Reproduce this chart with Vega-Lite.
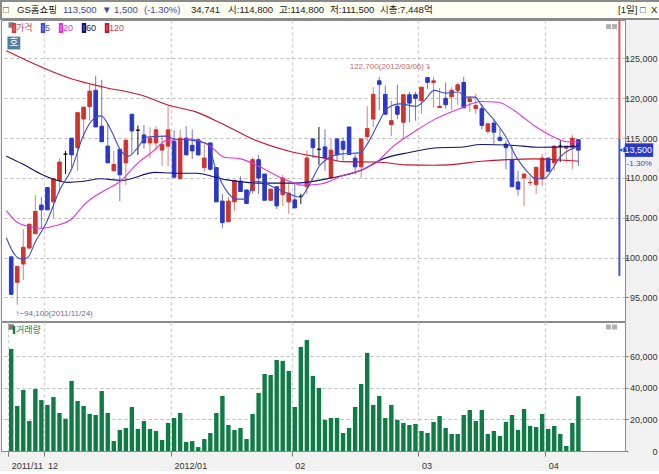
{
"$schema":"https://vega.github.io/schema/vega-lite/v6.json",
"background":"#f1f1f1","padding":0,"spacing":1,"bounds":"flush",
"resolve":{"scale":{"color":"independent"},"legend":{"color":"independent"}},
"config":{"view":{"stroke":"#8a8a8a"},"font":"Liberation Sans"},
"datasets":{
"candles":[
{"i":0,"open":100100,"high":100100,"low":95300,"close":95400,"volume":64700},
{"i":1,"open":96900,"high":98900,"low":94100,"close":98900,"volume":28500},
{"i":2,"open":99200,"high":103600,"low":97200,"close":101300,"volume":38700},
{"i":3,"open":101200,"high":104200,"low":101200,"close":104200,"volume":19000},
{"i":4,"open":103000,"high":107850,"low":103000,"close":105800,"volume":39300},
{"i":5,"open":106600,"high":107600,"low":103700,"close":106000,"volume":32300},
{"i":6,"open":108800,"high":108800,"low":106000,"close":106000,"volume":29200},
{"i":7,"open":107000,"high":109900,"low":105000,"close":109900,"volume":34200},
{"i":8,"open":109650,"high":112500,"low":108200,"close":112000,"volume":24100},
{"i":9,"open":113000,"high":113400,"low":110500,"close":113000,"volume":20500},
{"i":10,"open":115000,"high":115000,"low":111300,"close":112900,"volume":44400},
{"i":11,"open":113800,"high":118200,"low":110900,"close":118200,"volume":31700},
{"i":12,"open":117400,"high":118900,"low":115000,"close":118900,"volume":28500},
{"i":13,"open":118950,"high":121800,"low":117200,"close":120900,"volume":23500},
{"i":14,"open":121000,"high":122800,"low":116400,"close":116400,"volume":22800},
{"i":15,"open":116500,"high":122300,"low":114500,"close":114550,"volume":38000},
{"i":16,"open":114000,"high":116800,"low":111900,"close":111900,"volume":24100},
{"i":17,"open":110900,"high":113400,"low":110900,"close":111700,"volume":6300},
{"i":18,"open":113600,"high":113600,"low":107100,"close":110400,"volume":13300},
{"i":19,"open":111900,"high":114750,"low":109100,"close":114750,"volume":14600},
{"i":20,"open":118000,"high":118000,"low":113000,"close":115900,"volume":27900},
{"i":21,"open":116000,"high":116600,"low":112900,"close":116000,"volume":14000},
{"i":22,"open":115400,"high":116650,"low":113700,"close":114400,"volume":19000},
{"i":23,"open":114400,"high":116350,"low":112500,"close":115000,"volume":14000},
{"i":24,"open":114400,"high":116500,"low":113450,"close":116050,"volume":12700},
{"i":25,"open":113500,"high":115300,"low":111500,"close":114200,"volume":7000},
{"i":26,"open":114000,"high":119100,"low":111500,"close":116050,"volume":17800},
{"i":27,"open":114600,"high":116000,"low":110100,"close":110100,"volume":20900},
{"i":28,"open":109900,"high":116000,"low":109900,"close":115000,"volume":24100},
{"i":29,"open":115000,"high":116500,"low":112900,"close":112900,"volume":5700},
{"i":30,"open":114100,"high":116100,"low":112400,"close":113400,"volume":6300},
{"i":31,"open":114800,"high":114800,"low":112800,"close":112900,"volume":2500},
{"i":32,"open":111300,"high":114300,"low":110800,"close":112500,"volume":7600},
{"i":33,"open":114400,"high":114400,"low":110900,"close":111100,"volume":11400},
{"i":34,"open":111300,"high":111300,"low":107000,"close":107000,"volume":24100},
{"i":35,"open":107100,"high":108000,"low":103700,"close":104400,"volume":34900},
{"i":36,"open":104500,"high":107600,"low":104500,"close":107100,"volume":16500},
{"i":37,"open":107000,"high":109700,"low":105900,"close":109700,"volume":13300},
{"i":38,"open":109600,"high":110200,"low":108300,"close":108300,"volume":14600},
{"i":39,"open":108500,"high":108500,"low":106800,"close":106800,"volume":7600},
{"i":40,"open":108400,"high":112600,"low":108000,"close":112300,"volume":23500},
{"i":41,"open":112300,"high":112900,"low":108000,"close":110000,"volume":36800},
{"i":42,"open":110500,"high":110500,"low":107200,"close":107200,"volume":48800},
{"i":43,"open":107200,"high":108600,"low":107200,"close":108600,"volume":48200},
{"i":44,"open":108900,"high":108900,"low":106100,"close":106500,"volume":57700},
{"i":45,"open":107900,"high":110400,"low":106500,"close":110000,"volume":57100},
{"i":46,"open":107000,"high":109500,"low":105500,"close":108100,"volume":50700},
{"i":47,"open":107250,"high":109300,"low":106200,"close":106250,"volume":27900},
{"i":48,"open":107700,"high":108000,"low":106750,"close":107700,"volume":66000},
{"i":49,"open":108900,"high":113450,"low":108000,"close":112500,"volume":70400},
{"i":50,"open":114900,"high":114900,"low":112500,"close":113800,"volume":47600},
{"i":51,"open":113600,"high":116400,"low":111650,"close":113600,"volume":40000},
{"i":52,"open":113900,"high":116100,"low":110900,"close":112500,"volume":19700},
{"i":53,"open":110000,"high":114900,"low":110000,"close":113500,"volume":20900},
{"i":54,"open":114900,"high":115000,"low":112100,"close":112900,"volume":20900},
{"i":55,"open":114600,"high":115100,"low":112200,"close":113600,"volume":11400},
{"i":56,"open":116400,"high":116400,"low":112950,"close":112950,"volume":14600},
{"i":57,"open":112500,"high":113000,"low":110500,"close":111400,"volume":27900},
{"i":58,"open":111400,"high":114900,"low":110000,"close":114900,"volume":42500},
{"i":59,"open":115200,"high":119000,"low":114600,"close":116200,"volume":62200},
{"i":60,"open":117400,"high":121400,"low":116400,"close":120500,"volume":29200},
{"i":61,"open":122200,"high":122700,"low":118500,"close":121750,"volume":34900},
{"i":62,"open":120500,"high":121600,"low":118000,"close":118000,"volume":20900},
{"i":63,"open":116700,"high":119700,"low":115250,"close":117200,"volume":29200},
{"i":64,"open":119000,"high":121700,"low":117400,"close":118000,"volume":19700},
{"i":65,"open":117000,"high":120500,"low":114900,"close":120450,"volume":17800},
{"i":66,"open":120450,"high":120800,"low":117000,"close":119400,"volume":16500},
{"i":67,"open":120450,"high":120800,"low":117200,"close":120000,"volume":17100},
{"i":68,"open":119700,"high":121400,"low":118050,"close":121400,"volume":12700},
{"i":69,"open":122600,"high":122600,"low":121200,"close":122000,"volume":11400},
{"i":70,"open":122000,"high":122700,"low":118850,"close":122200,"volume":18400},
{"i":71,"open":118850,"high":121300,"low":118850,"close":119000,"volume":22200},
{"i":72,"open":120000,"high":122000,"low":118700,"close":119200,"volume":14600},
{"i":73,"open":120200,"high":121400,"low":118500,"close":121000,"volume":10800},
{"i":74,"open":121000,"high":122000,"low":119200,"close":121700,"volume":10800},
{"i":75,"open":122000,"high":122700,"low":118800,"close":118800,"volume":22800},
{"i":76,"open":119600,"high":120300,"low":118300,"close":119950,"volume":26000},
{"i":77,"open":118700,"high":120600,"low":118050,"close":119100,"volume":19000},
{"i":78,"open":118700,"high":119300,"low":116100,"close":116600,"volume":26000},
{"i":79,"open":115850,"high":116900,"low":115500,"close":116800,"volume":10800},
{"i":80,"open":116900,"high":117400,"low":114300,"close":115750,"volume":12700},
{"i":81,"open":115100,"high":116200,"low":114700,"close":114700,"volume":9500},
{"i":82,"open":114250,"high":114700,"low":111100,"close":113800,"volume":18400},
{"i":83,"open":112300,"high":114100,"low":108900,"close":108900,"volume":22800},
{"i":84,"open":109500,"high":110900,"low":107800,"close":108600,"volume":13300},
{"i":85,"open":110000,"high":110500,"low":106500,"close":110500,"volume":26600},
{"i":86,"open":109400,"high":110200,"low":109000,"close":109450,"volume":15900},
{"i":87,"open":109200,"high":111350,"low":108000,"close":111350,"volume":15200},
{"i":88,"open":109900,"high":113000,"low":109000,"close":112500,"volume":23500},
{"i":89,"open":112500,"high":112500,"low":110850,"close":110850,"volume":14000},
{"i":90,"open":111900,"high":114150,"low":110900,"close":114000,"volume":15900},
{"i":91,"open":114000,"high":114700,"low":112000,"close":114000,"volume":10800},
{"i":92,"open":113750,"high":114000,"low":111900,"close":114000,"volume":3200},
{"i":93,"open":113800,"high":115400,"low":111100,"close":115000,"volume":17800},
{"i":94,"open":114800,"high":114800,"low":111500,"close":113500,"volume":34741}
],
"ma":[
{"s":"120","i":-0.8,"v":125970},{"s":"120","i":10.2,"v":122400},{"s":"120","i":15.4,"v":121400},{"s":"120","i":22,"v":120300},{"s":"120","i":26,"v":119150},{"s":"120","i":30.6,"v":118300},{"s":"120","i":35,"v":116800},{"s":"120","i":40,"v":114900},{"s":"120","i":46.4,"v":113300},{"s":"120","i":52.6,"v":112400},{"s":"120","i":55,"v":112050},{"s":"120","i":60.6,"v":112000},{"s":"120","i":65.5,"v":111650},{"s":"120","i":70,"v":111600},{"s":"120","i":72.5,"v":111650},{"s":"120","i":78,"v":112100},{"s":"120","i":82.3,"v":112300},{"s":"120","i":86.7,"v":112400},{"s":"120","i":91,"v":112250},{"s":"120","i":94,"v":112100},
{"s":"60","i":-0.8,"v":112750},{"s":"60","i":1.9,"v":111750},{"s":"60","i":5.2,"v":110400},{"s":"60","i":9.4,"v":109450},{"s":"60","i":11.7,"v":109550},{"s":"60","i":14.9,"v":109900},{"s":"60","i":18.2,"v":109700},{"s":"60","i":23.9,"v":110700},{"s":"60","i":26.9,"v":110600},{"s":"60","i":30.6,"v":110600},{"s":"60","i":35.5,"v":109800},{"s":"60","i":41.5,"v":109350},{"s":"60","i":46.9,"v":109350},{"s":"60","i":53,"v":110000},{"s":"60","i":57.8,"v":110900},{"s":"60","i":61.6,"v":112400},{"s":"60","i":66,"v":113200},{"s":"60","i":70.9,"v":113800},{"s":"60","i":74.2,"v":113850},{"s":"60","i":78,"v":114200},{"s":"60","i":82.3,"v":114150},{"s":"60","i":87.7,"v":113850},{"s":"60","i":94,"v":114000},
{"s":"20","i":-0.8,"v":105900},{"s":"20","i":1.3,"v":104300},{"s":"20","i":5.2,"v":103700},{"s":"20","i":7.3,"v":104000},{"s":"20","i":10,"v":104850},{"s":"20","i":12.2,"v":106750},{"s":"20","i":15.4,"v":108400},{"s":"20","i":18.2,"v":109650},{"s":"20","i":20.8,"v":111750},{"s":"20","i":23.6,"v":113400},{"s":"20","i":25.7,"v":114700},{"s":"20","i":29.6,"v":114900},{"s":"20","i":32.9,"v":114050},{"s":"20","i":35.3,"v":112600},{"s":"20","i":38,"v":112400},{"s":"20","i":41.2,"v":111400},{"s":"20","i":44.5,"v":110100},{"s":"20","i":46.8,"v":109400},{"s":"20","i":48,"v":109100},{"s":"20","i":51.3,"v":109250},{"s":"20","i":55,"v":110300},{"s":"20","i":58.3,"v":111100},{"s":"20","i":60.6,"v":112000},{"s":"20","i":63.2,"v":113900},{"s":"20","i":67.1,"v":115950},{"s":"20","i":69.8,"v":117200},{"s":"20","i":74.2,"v":118650},{"s":"20","i":77.9,"v":119600},{"s":"20","i":80.7,"v":119500},{"s":"20","i":83.4,"v":118450},{"s":"20","i":86.7,"v":116550},{"s":"20","i":90,"v":115100},{"s":"20","i":92.1,"v":114550},{"s":"20","i":94,"v":114500},
{"s":"5","i":-0.8,"v":102500},{"s":"5","i":0.3,"v":100700},{"s":"5","i":1.6,"v":99850},{"s":"5","i":2.7,"v":100000},{"s":"5","i":4,"v":102000},{"s":"5","i":5.7,"v":104200},{"s":"5","i":8.1,"v":108600},{"s":"5","i":10,"v":111100},{"s":"5","i":11.9,"v":115250},{"s":"5","i":13.3,"v":117150},{"s":"5","i":14.9,"v":117800},{"s":"5","i":16.6,"v":115900},{"s":"5","i":18.2,"v":113400},{"s":"5","i":19.5,"v":112750},{"s":"5","i":20.8,"v":113650},{"s":"5","i":22.5,"v":115150},{"s":"5","i":25.7,"v":115250},{"s":"5","i":26.9,"v":114900},{"s":"5","i":29.8,"v":114750},{"s":"5","i":32.6,"v":114250},{"s":"5","i":33.9,"v":111100},{"s":"5","i":35.5,"v":108600},{"s":"5","i":37.2,"v":107350},{"s":"5","i":39.1,"v":107350},{"s":"5","i":40.2,"v":109600},{"s":"5","i":41.5,"v":109500},{"s":"5","i":43.5,"v":108850},{"s":"5","i":46.1,"v":108000},{"s":"5","i":48,"v":107600},{"s":"5","i":49,"v":108600},{"s":"5","i":51.3,"v":111700},{"s":"5","i":54.5,"v":113000},{"s":"5","i":57.8,"v":113150},{"s":"5","i":59.2,"v":114500},{"s":"5","i":60.8,"v":116800},{"s":"5","i":62.2,"v":118650},{"s":"5","i":64.4,"v":119300},{"s":"5","i":67.1,"v":119000},{"s":"5","i":68.4,"v":119650},{"s":"5","i":70.1,"v":121000},{"s":"5","i":72,"v":120650},{"s":"5","i":74.2,"v":120800},{"s":"5","i":75.3,"v":120150},{"s":"5","i":76.9,"v":120150},{"s":"5","i":78,"v":119050},{"s":"5","i":79.9,"v":117400},{"s":"5","i":82,"v":115150},{"s":"5","i":83.9,"v":112400},{"s":"5","i":85.6,"v":110750},{"s":"5","i":86.9,"v":109900},{"s":"5","i":88.3,"v":109900},{"s":"5","i":90,"v":111500},{"s":"5","i":91,"v":112650},{"s":"5","i":94,"v":113900}
]
},
"vconcat":[
{"width":659,"height":18,"view":{"fill":"#fffef2","stroke":"#8a8a8a","strokeWidth":2},
 "data":{"values":[
 {"col":2,"t":"□","c":"k"},{"col":16,"t":"GS홈쇼핑","c":"k"},{"col":62,"t":"113,500","c":"b"},{"col":101,"t":"▼","c":"b"},{"col":113,"t":"1,500","c":"b"},{"col":143,"t":"(-1.30%)","c":"b"},{"col":190,"t":"34,741","c":"k"},{"col":227,"t":"시:114,800","c":"k"},{"col":278,"t":"고:114,800","c":"k"},{"col":329,"t":"저:111,500","c":"k"},{"col":379,"t":"시총:7,448억","c":"k"},{"col":617,"t":"[1일]","c":"k"},{"col":639,"t":"□","c":"k"},{"col":650,"t":"X","c":"k"}]},
 "mark":{"type":"text","align":"left","baseline":"middle","fontSize":9.5,"font":"Liberation Sans, Noto Sans CJK KR"},
 "encoding":{"x":{"field":"col","type":"quantitative","scale":{"domain":[0,659],"nice":false},"axis":null},
  "y":{"datum":0.5,"type":"quantitative","scale":{"domain":[0,1]},"axis":null},
  "text":{"field":"t"},
  "color":{"field":"c","type":"nominal","legend":null,"scale":{"domain":["k","b"],"range":["#222222","#3a48ae"]}}}
},
{"width":624,"height":301,"view":{"fill":"white","stroke":"#8a8a8a"},
 "encoding":{"x":{"field":"i","type":"quantitative","scale":{"domain":[-0.864,100.9],"nice":false,"zero":false},
   "axis":{"values":[5.5,26.5,46.5,67.5,88.5],"grid":true,"gridColor":"#cfcfcf","gridDash":[3,3],"gridWidth":1.4,"labels":false,"ticks":false,"domain":false,"title":null}}},
 "layer":[
  {"data":{"name":"candles"},"mark":{"type":"rule","strokeWidth":1},
   "encoding":{"y":{"field":"low","type":"quantitative","scale":{"domain":[92050,129830],"nice":false,"zero":false},
     "axis":{"orient":"right","values":[95000,100000,105000,110000,115000,120000,125000],"format":",d","title":null,"grid":true,"gridColor":"#b9b9b9","gridDash":[3,3],"domain":false,"tickColor":"#777777","tickSize":3,"labelAlign":"right","labelPadding":29,"labelColor":"#333333","labelFontSize":9,"labelFont":"Liberation Sans"}},
    "y2":{"field":"high"},
    "color":{"condition":[{"test":"datum.open==datum.close","value":"#111111"},{"test":"datum.close>datum.open","value":"#d9807c"}],"value":"#6d75d8"}}},
  {"data":{"name":"candles"},"mark":{"type":"bar","orient":"vertical","width":3.6,"strokeWidth":1},
   "encoding":{"y":{"field":"open","type":"quantitative"},"y2":{"field":"close"},
    "color":{"condition":[{"test":"datum.open==datum.close","value":"#111111"},{"test":"datum.close>datum.open","value":"#cc3530"}],"value":"#2b38c6"},
    "stroke":{"condition":[{"test":"datum.open==datum.close","value":"#111111"},{"test":"datum.close>datum.open","value":"#cc3530"}],"value":"#2b38c6"}}},
  {"data":{"name":"ma"},"mark":{"type":"line","interpolate":"monotone","strokeWidth":1.1},
   "encoding":{"y":{"field":"v","type":"quantitative"},
    "order":{"field":"i","type":"quantitative"},
    "color":{"field":"s","type":"nominal","scale":{"domain":["가격","5","20","60","120"],"range":["#d0404a","#3f4cc8","#e233d6","#12126e","#c8142c"]},
     "legend":{"orient":"none","legendX":8,"legendY":3,"direction":"horizontal","title":null,"columns":5,"columnPadding":4,"symbolType":"M-0.3,-1H0.3V1H-0.3Z","symbolSize":64,"symbolStrokeWidth":2,"labelFontSize":9,"labelFont":"Liberation Sans, Noto Sans CJK KR","labelOffset":-3,"padding":0,
      "encode":{"labels":{"update":{"fill":{"signal":"datum.label=='5'?'#3f4cc8':datum.label=='20'?'#e233d6':datum.label=='60'?'#12126e':'#c84a50'"}}}}}}}},
  {"data":{"values":[{"i":100.8,"a":129830,"b":114900}]},"mark":{"type":"rule","strokeWidth":2,"color":"#e0555a"},"encoding":{"y":{"field":"a","type":"quantitative"},"y2":{"field":"b"}}},
  {"data":{"values":[{"i":100.8,"a":114900,"b":97700}]},"mark":{"type":"rule","strokeWidth":2,"color":"#4c52dc"},"encoding":{"y":{"field":"a","type":"quantitative"},"y2":{"field":"b"}}},
  {"data":{"values":[{"i":0,"v":129200}]},"mark":{"type":"square","size":30,"color":"#808080","opacity":1},"encoding":{"y":{"field":"v","type":"quantitative"}}},
  {"data":{"values":[{"i":99,"v":129000},{"i":100,"v":129000}]},"mark":{"type":"square","size":25,"color":"#b0b0b0","opacity":1},"encoding":{"y":{"field":"v","type":"quantitative"}}},
  {"data":{"values":[{"i":0.44,"v":126940}]},"mark":{"type":"square","size":165,"color":"#4d7ea8","opacity":1},"encoding":{"y":{"field":"v","type":"quantitative"}}},
  {"data":{"values":[{"i":0.44,"v":126940,"t":"호"}]},"mark":{"type":"text","color":"white","fontSize":10,"font":"Noto Sans CJK KR","baseline":"middle"},"encoding":{"y":{"field":"v","type":"quantitative"},"text":{"field":"t"}}},
  {"data":{"values":[{"i":56.1,"v":123900,"t":"122,700(2012/03/06)↴"}]},"mark":{"type":"text","align":"left","baseline":"middle","color":"#c46a6a","fontSize":8},"encoding":{"y":{"field":"v","type":"quantitative"},"text":{"field":"t"}}},
  {"data":{"values":[{"i":0.7,"v":92950,"t":"↑−94,100(2011/11/24)"}]},"mark":{"type":"text","align":"left","baseline":"middle","color":"#6a6ab4","fontSize":8},"encoding":{"y":{"field":"v","type":"quantitative"},"text":{"field":"t"}}},
  {"data":{"values":[{"x0":101.7,"x1":106.4,"a":112650,"b":114350}]},"mark":{"type":"rect","color":"#2b38c6","clip":false},"encoding":{"x":{"field":"x0","type":"quantitative"},"x2":{"field":"x1"},"y":{"field":"a","type":"quantitative"},"y2":{"field":"b"}}},
  {"data":{"values":[{"i":101.3,"v":113500}]},"mark":{"type":"point","shape":"triangle-left","filled":true,"size":60,"color":"#2b38c6","opacity":1,"clip":false},"encoding":{"y":{"field":"v","type":"quantitative"}}},
  {"data":{"values":[{"i":106.2,"v":113500,"t":"113,500"}]},"mark":{"type":"text","align":"right","baseline":"middle","color":"white","fontSize":9,"clip":false},"encoding":{"y":{"field":"v","type":"quantitative"},"text":{"field":"t"}}},
  {"data":{"values":[{"i":106.2,"v":111800,"t":"-1.30%"}]},"mark":{"type":"text","align":"right","baseline":"middle","color":"#3a48ae","fontSize":8,"clip":false},"encoding":{"y":{"field":"v","type":"quantitative"},"text":{"field":"t"}}}
 ]
},
{"width":624,"height":129,"view":{"fill":"white","stroke":"#8a8a8a"},
 "encoding":{"x":{"field":"i","type":"quantitative","scale":{"domain":[-0.864,100.9],"nice":false,"zero":false},
   "axis":{"values":[-0.5,5.5,26.5,46.5,67.5,88.5],"labelExpr":"datum.value==-0.5?'2011/11':datum.value==5.5?'12':datum.value==26.5?'2012/01':datum.value==46.5?'02':datum.value==67.5?'03':'04'","labelAlign":"left","labelOffset":3,"labelPadding":5,"labelFlush":false,"labelOverlap":false,"labelColor":"#333333","labelFontSize":9,"grid":true,"gridColor":"#cfcfcf","gridDash":[3,3],"gridWidth":1.4,"tickColor":"#777777","tickSize":5,"domainColor":"#8a8a8a","title":null}}},
 "layer":[
  {"data":{"name":"candles"},"mark":{"type":"bar","width":4.4},
   "encoding":{"y":{"field":"volume","type":"quantitative","scale":{"domain":[0,81750],"nice":false},
     "axis":{"orient":"right","values":[0,20000,40000,60000],"format":",d","title":null,"grid":true,"gridColor":"#b9b9b9","gridDash":[3,3],"domain":false,"tickColor":"#777777","tickSize":3,"labelAlign":"right","labelPadding":29,"labelColor":"#333333","labelFontSize":9}},
    "color":{"datum":"거래량","type":"nominal","scale":{"domain":["거래량"],"range":["#0f7c45"]},
     "legend":{"orient":"none","legendX":8,"legendY":3,"title":null,"symbolType":"M-0.3,-1H0.3V1H-0.3Z","symbolSize":64,"symbolStrokeWidth":2,"labelFontSize":9,"labelColor":"#1c7a4a","labelFont":"Liberation Sans, Noto Sans CJK KR","labelOffset":-3,"padding":0}}}},
  {"data":{"values":[{"i":0,"v":78600}]},"mark":{"type":"square","size":30,"color":"#808080","opacity":1},"encoding":{"y":{"field":"v","type":"quantitative"}}},
  {"data":{"values":[{"i":99,"v":78600},{"i":100,"v":78600}]},"mark":{"type":"square","size":25,"color":"#b0b0b0","opacity":1},"encoding":{"y":{"field":"v","type":"quantitative"}}}
 ]
}
]
}
